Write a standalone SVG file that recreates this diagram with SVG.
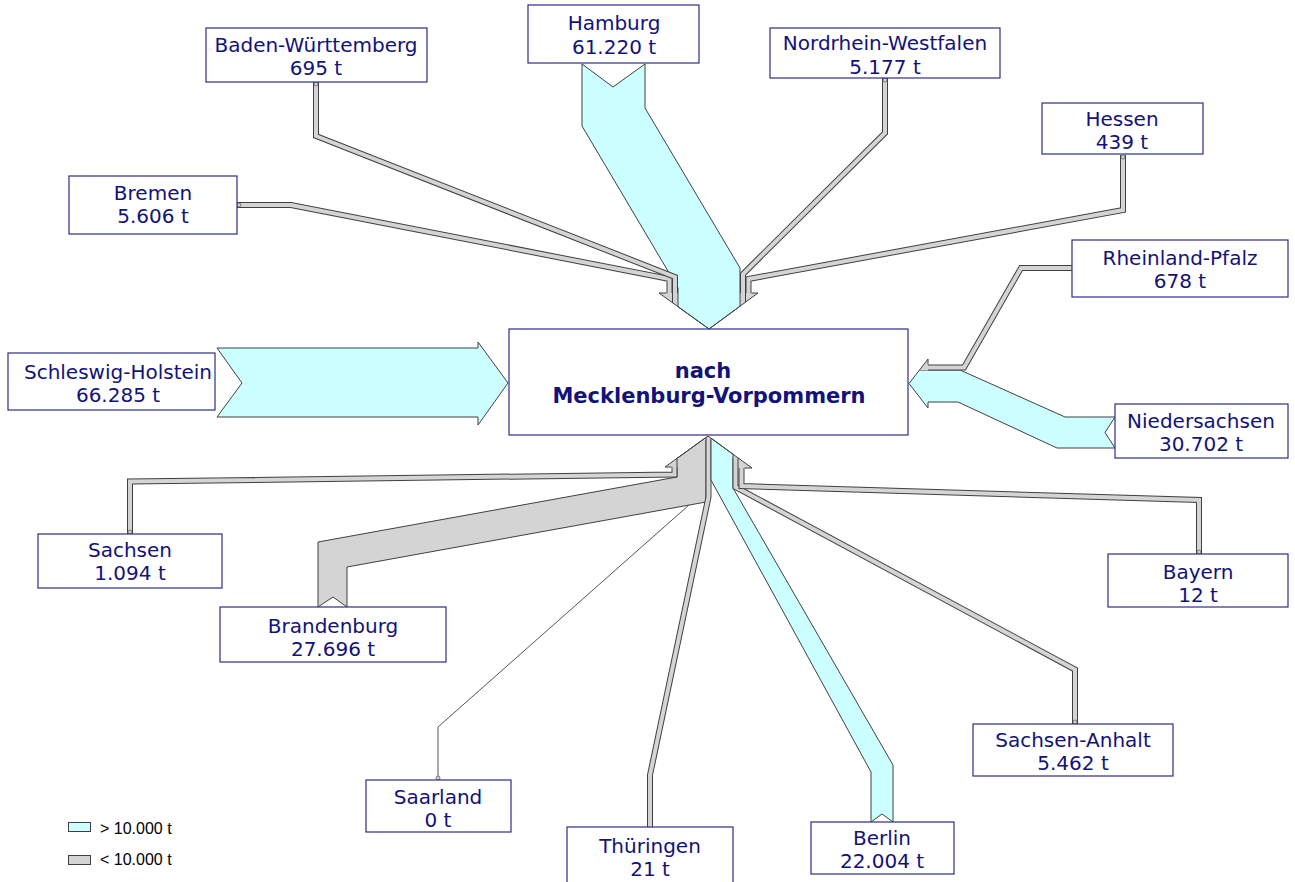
<svg xmlns="http://www.w3.org/2000/svg" width="1295" height="882" viewBox="0 0 1295 882">
<style>
.box{fill:#fff;stroke:#2e2e86;stroke-width:1.2}
.lbl{font-family:"DejaVu Sans",Verdana,sans-serif;font-size:20px;fill:#12127a;text-anchor:middle}
.ctr{font-family:"DejaVu Sans",Verdana,sans-serif;font-size:21px;font-weight:bold;fill:#12127a;text-anchor:middle}
.big{fill:#ccffff;stroke:#404040;stroke-width:1;stroke-linejoin:miter}
.gp{fill:#d4d4d4;stroke:#404040;stroke-width:1;stroke-linejoin:miter}
.so{fill:none;stroke:#404040;stroke-width:6;stroke-linejoin:miter}
.si{fill:none;stroke:#d4d4d4;stroke-width:4;stroke-linejoin:miter}
.hf{fill:#d4d4d4;stroke:none}
.ol{fill:none;stroke:#404040;stroke-width:1}
.dot{fill:#d4d4d4;stroke:#606060;stroke-width:0.8}
.leg{font-family:"Liberation Sans",Arial,sans-serif;font-size:16px;fill:#000}
</style>
<defs>
<path id="p-bremen" d="M237,205 L291,205 L669.5,279 L669.5,293"/>
<path id="p-bw" d="M316,82 L316,136 L675,277 L675,293"/>
<path id="p-nrw" d="M885,78 L885,133 L743,274 L743,293"/>
<path id="p-hessen" d="M1123,155 L1123,210 L748.5,279 L748.5,293"/>
<path id="p-rp" d="M1072,268 L1021,268 L964,367.5 L928,367.5"/>
<path id="p-sachsen" d="M130,534 L130,481.5 L674.5,474.5 L674.5,467"/>
<path id="p-thueringen" d="M650,827 L650,775 L708.5,497 L708.5,440"/>
<path id="p-sa" d="M1075,724 L1075,669.5 L735.5,487 L735.5,458"/>
<path id="p-bayern" d="M1199,554 L1199,500 L741.5,486 L741.5,468"/>
</defs>
<rect width="1295" height="882" fill="#fff"/>
<g id="connectors">
<polygon class="hf" points="659,293 709,329 758,293"/>
<polygon id="c-hamburg" class="big" points="582,64 613,87 645,64 645,108 740,268 740,306.2 709,329 678,306.7 678,288 582,126"/>
<g id="c-bremen"><use href="#p-bremen" class="so"/><use href="#p-bremen" class="si"/></g>
<g id="c-bw"><use href="#p-bw" class="so"/><use href="#p-bw" class="si"/></g>
<g id="c-nrw"><use href="#p-nrw" class="so"/><use href="#p-nrw" class="si"/></g>
<g id="c-hessen"><use href="#p-hessen" class="so"/><use href="#p-hessen" class="si"/></g>
<path class="ol" d="M672.5,293 V303 M745.5,293 V302.5"/>
<polyline class="ol" points="666.5,293 659,293 709,329 758,293 751.5,293"/>
<polygon id="c-niedersachsen" class="big" points="1115,417 1065,417 960,370 919.5,370 909,383.5 928,408 928,402 958,402 1057,448 1115,448 1105,432.5"/>
<g id="c-rp"><use href="#p-rp" class="so"/><use href="#p-rp" class="si"/></g>
<polygon class="hf" points="928,359 919.5,370 928,370"/>
<polyline class="ol" points="928,364.5 928,359 919.5,370"/>
<polygon id="c-sh" class="big" points="217,348 478,348 478,342 508,383 478,425 478,417 217,417 242,383"/>
<polygon class="hf" points="665,467 708,436 752,468"/>
<polygon id="c-brandenburg" class="gp" points="318,607 333,597 347,607 347,567 706,502 706,437.4 677,458.4 677,477 318,542"/>
<g id="c-thueringen"><use href="#p-thueringen" class="so"/><use href="#p-thueringen" class="si"/></g>
<polygon id="c-berlin" class="big" points="711,438.2 733,454.2 733,488 893,765 893,822 882,814 871,822 871,772 711,480"/>
<g id="c-sachsen"><use href="#p-sachsen" class="so"/><use href="#p-sachsen" class="si"/></g>
<g id="c-sa"><use href="#p-sa" class="so"/><use href="#p-sa" class="si"/></g>
<g id="c-bayern"><use href="#p-bayern" class="so"/><use href="#p-bayern" class="si"/></g>
<polyline class="ol" points="671.5,467 665,467 708,436 752,468 744.5,468"/>
<polyline id="c-saarland" fill="none" stroke="#555" stroke-width="1" points="438,780 438,727 689,505"/>
<g id="dots">
<circle class="dot" cx="316" cy="84" r="2"/>
<circle class="dot" cx="885" cy="80" r="2"/>
<circle class="dot" cx="1123" cy="157" r="2"/>
<circle class="dot" cx="239" cy="205" r="2"/>
<circle class="dot" cx="1074" cy="268" r="2"/>
<circle class="dot" cx="130" cy="532" r="2"/>
<circle class="dot" cx="1199" cy="552" r="2"/>
<circle class="dot" cx="1075" cy="722" r="2"/>
<circle class="dot" cx="438" cy="778" r="2"/>
</g>
</g>
<g id="n-center"><rect class="box" x="509" y="329" width="399" height="106"/><text class="ctr" x="703" y="378">nach</text><text class="ctr" x="709" y="403">Mecklenburg-Vorpommern</text></g>
<g id="n-bw"><rect class="box" x="206" y="28" width="221" height="54"/><text class="lbl" x="316" y="52">Baden-Württemberg</text><text class="lbl" x="316" y="75">695 t</text></g>
<g id="n-hamburg"><rect class="box" x="528" y="5" width="171" height="58"/><text class="lbl" x="614" y="30">Hamburg</text><text class="lbl" x="614" y="54">61.220 t</text></g>
<g id="n-nrw"><rect class="box" x="770" y="28" width="230" height="50"/><text class="lbl" x="885" y="50">Nordrhein-Westfalen</text><text class="lbl" x="885" y="74">5.177 t</text></g>
<g id="n-hessen"><rect class="box" x="1042" y="103" width="161" height="51"/><text class="lbl" x="1122" y="126">Hessen</text><text class="lbl" x="1122" y="149">439 t</text></g>
<g id="n-bremen"><rect class="box" x="69" y="176" width="168" height="58"/><text class="lbl" x="153" y="200">Bremen</text><text class="lbl" x="153" y="223">5.606 t</text></g>
<g id="n-rp"><rect class="box" x="1072" y="240" width="216" height="57"/><text class="lbl" x="1180" y="265">Rheinland-Pfalz</text><text class="lbl" x="1180" y="288">678 t</text></g>
<g id="n-sh"><rect class="box" x="8" y="353" width="207" height="57"/><text class="lbl" x="118" y="379">Schleswig-Holstein</text><text class="lbl" x="118" y="402">66.285 t</text></g>
<g id="n-niedersachsen"><rect class="box" x="1115" y="404" width="173" height="54"/><text class="lbl" x="1201" y="428">Niedersachsen</text><text class="lbl" x="1201" y="451">30.702 t</text></g>
<g id="n-sachsen"><rect class="box" x="38" y="534" width="184" height="54"/><text class="lbl" x="130" y="557">Sachsen</text><text class="lbl" x="130" y="580">1.094 t</text></g>
<g id="n-brandenburg"><rect class="box" x="220" y="607" width="226" height="55"/><text class="lbl" x="333" y="633">Brandenburg</text><text class="lbl" x="333" y="656">27.696 t</text></g>
<g id="n-bayern"><rect class="box" x="1108" y="554" width="180" height="53"/><text class="lbl" x="1198" y="579">Bayern</text><text class="lbl" x="1198" y="602">12 t</text></g>
<g id="n-sa"><rect class="box" x="973" y="724" width="200" height="52"/><text class="lbl" x="1073" y="747">Sachsen-Anhalt</text><text class="lbl" x="1073" y="770">5.462 t</text></g>
<g id="n-saarland"><rect class="box" x="366" y="780" width="145" height="52"/><text class="lbl" x="438" y="804">Saarland</text><text class="lbl" x="438" y="827">0 t</text></g>
<g id="n-thueringen"><rect class="box" x="567" y="827" width="166" height="60"/><text class="lbl" x="650" y="853">Thüringen</text><text class="lbl" x="650" y="876">21 t</text></g>
<g id="n-berlin"><rect class="box" x="811" y="822" width="143" height="52"/><text class="lbl" x="882" y="845">Berlin</text><text class="lbl" x="882" y="868">22.004 t</text></g>
<g id="legend">
<rect x="68.5" y="822.5" width="22" height="9" fill="#ccffff" stroke="#404040" stroke-width="1"/>
<text class="leg" x="100" y="834">&gt; 10.000 t</text>
<rect x="68.5" y="855.5" width="22" height="9" fill="#d4d4d4" stroke="#404040" stroke-width="1"/>
<text class="leg" x="100" y="865">&lt; 10.000 t</text>
</g>
</svg>
